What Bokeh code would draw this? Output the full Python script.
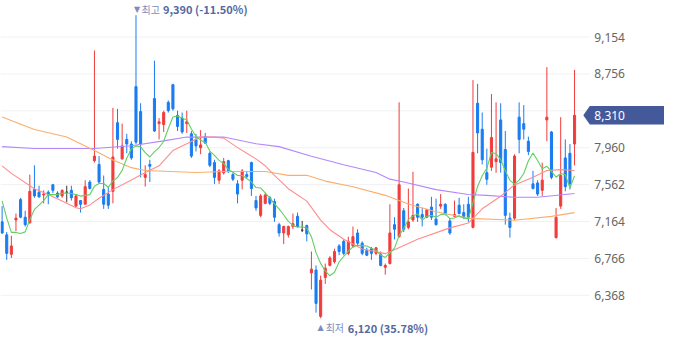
from bokeh.plotting import figure
from bokeh.models import Range1d, ColumnDataSource
from bokeh.core.properties import value
from bokeh.embed import file_html
from bokeh.resources import INLINE

# ---- data ----
opens = [7160, 7020, 6810, 7180, 7400, 7210, 7150, 7510, 7480, 7450,
         7480, 7560, 7470, 7440, 7480, 7500, 7330, 7390, 7350, 7590,
         7820, 7780, 7510, 7460, 7490, 8230, 7840, 8050, 8000, 8620,
         8350, 7640, 7780, 8490, 8220, 8210, 8450, 8640, 8310, 8280,
         8220, 8110, 8050, 7960, 8080, 7900, 7800, 7610, 7690, 7820,
         7670, 7570, 7610, 7670, 7800, 7390, 7230, 7360, 7420, 7380,
         7130, 7040, 7020, 7110, 7220, 7070, 7120, 6610, 6640, 6140,
         6560, 6690, 6730, 6900, 6950, 6820, 6900, 7040, 6930, 6850,
         6870, 6820, 6810, 6670, 6710, 7130, 7000, 7280, 7100, 7180,
         7350, 7240, 7210, 7320, 7190, 7330, 7350, 7170, 7220, 7340,
         7260, 7350, 7100, 8440, 8160, 7690, 7750, 7810, 8260, 7940,
         7200, 7200, 8290, 8220, 8030, 7570, 7580, 7500, 8260, 8130,
         6990, 7330, 7850, 7900, 8000]
highs = [7330, 7050, 7010, 7250, 7420, 7280, 7670, 7770, 7550, 7500,
         7500, 7570, 7490, 7510, 7550, 7550, 7460, 7390, 7610, 7610,
         9010, 7870, 7660, 7540, 8390, 8380, 8220, 8110, 8030, 9390,
         8440, 7770, 7830, 8900, 8280, 8360, 8470, 8650, 8360, 8340,
         8360, 8140, 8110, 8150, 8120, 7920, 7830, 7730, 7850, 7830,
         7690, 7610, 7730, 7710, 7810, 7440, 7460, 7470, 7440, 7410,
         7150, 7120, 7120, 7250, 7260, 7170, 7130, 6840, 6690, 6580,
         6710, 6790, 6870, 6920, 6970, 7000, 7110, 7080, 6950, 6880,
         6890, 6890, 6840, 6710, 7350, 7210, 8450, 7310, 7520, 7700,
         7360, 7310, 7300, 7430, 7410, 7460, 7360, 7200, 7390, 7420,
         7350, 7430, 8690, 8650, 8340, 7950, 8540, 8450, 8440, 8140,
         7260, 7890, 8450, 8420, 8080, 7710, 7610, 7800, 8830, 8140,
         7310, 8290, 8050, 8000, 8800]
lows = [7030, 6750, 6770, 7060, 7200, 7110, 7140, 7420, 7420, 7360,
        7350, 7470, 7420, 7420, 7370, 7390, 7320, 7260, 7350, 7510,
        7800, 7580, 7300, 7300, 7360, 7950, 7830, 7900, 7830, 8000,
        7640, 7540, 7590, 8130, 8050, 8130, 8340, 8360, 8140, 8110,
        8120, 7850, 7920, 7890, 8000, 7750, 7570, 7570, 7670, 7690,
        7600, 7360, 7510, 7630, 7440, 7280, 7210, 7350, 7340, 7160,
        7000, 6920, 6990, 7080, 7100, 7050, 6950, 6430, 6180, 6120,
        6490, 6680, 6710, 6800, 6800, 6800, 6880, 6890, 6800, 6790,
        6750, 6800, 6680, 6590, 6700, 6970, 6990, 7050, 7080, 7160,
        7160, 7110, 7200, 7180, 7120, 7300, 7230, 7020, 7210, 7240,
        7190, 7160, 7090, 7900, 7780, 7560, 7710, 7690, 7690, 7130,
        6990, 7180, 7900, 8050, 7880, 7510, 7440, 7440, 8030, 7620,
        6980, 7300, 7490, 7510, 7770]
closes = [7040, 6820, 6900, 7200, 7210, 7130, 7490, 7440, 7430, 7460,
          7450, 7500, 7430, 7500, 7480, 7420, 7440, 7350, 7540, 7520,
          7870, 7590, 7350, 7340, 7860, 8050, 7980, 8000, 7850, 8020,
          8000, 7670, 7760, 8140, 8240, 8340, 8360, 8380, 8190, 8130,
          8240, 7870, 7980, 7990, 8010, 7770, 7640, 7710, 7810, 7700,
          7620, 7460, 7710, 7650, 7520, 7310, 7440, 7450, 7360, 7210,
          7040, 7110, 7110, 7140, 7110, 7070, 7030, 6650, 6280, 6530,
          6660, 6770, 6840, 6840, 6820, 6950, 7000, 6930, 6820, 6800,
          6820, 6880, 6690, 6690, 7040, 7080, 7560, 7080, 7160, 7230,
          7210, 7210, 7290, 7210, 7130, 7350, 7250, 7040, 7240, 7250,
          7220, 7210, 7910, 8120, 7830, 7620, 8070, 7840, 7800, 7230,
          7100, 7870, 8050, 8160, 7920, 7520, 7460, 7610, 8290, 7640,
          7210, 7660, 7540, 7570, 8310]
prior_closes = [7750, 7670, 7200, 7270]   # four sessions before the window (for MA5)

ma20_idx = [0, 2, 7, 10, 13, 16, 17, 19, 21, 24, 28, 31, 34, 37, 40, 43, 46, 48, 51, 53,
            55, 57, 59, 62, 66, 69, 71, 74, 76, 78, 80, 83, 85, 90, 97, 101, 104, 108, 111,
            115, 118, 121, 124]
ma20_val = [7765, 7683, 7518, 7456, 7384, 7312, 7301, 7343, 7415, 7508, 7611, 7693, 7765,
            7930, 8003, 8075, 8075, 8064, 7961, 7900, 7840, 7765, 7662, 7518, 7384, 7178,
            7075, 6972, 6920, 6868, 6848, 6817, 6860, 6972, 7095, 7147, 7301, 7436, 7559,
            7642, 7714, 7724, 7714]
ma60_idx = [0, 7, 14, 20, 24, 28, 31, 42, 48, 57, 62, 66, 70, 76, 83, 88, 94, 101, 111, 119, 124]
ma60_val = [8291, 8157, 8075, 7930, 7827, 7745, 7714, 7693, 7704, 7704, 7662, 7662, 7600,
            7538, 7446, 7353, 7270, 7198, 7178, 7219, 7260]
ma120_idx = [0, 7, 20, 28, 35, 40, 48, 55, 60, 67, 74, 81, 84, 87, 94, 101, 105, 111, 116, 124]
ma120_val = [7972, 7951, 7951, 7982, 8034, 8075, 8075, 8003, 7972, 7868, 7776, 7693, 7621,
             7590, 7508, 7456, 7446, 7425, 7425, 7466]
y_ticks = [6368, 6766, 7164, 7562, 7960, 8358, 8756, 9154]
y_tick_labels = [f"{t:,}" for t in y_ticks]

# ---- colours ----
UP = "#f23c3c"
DOWN = "#1b7cf2"
FLAT = "#333333"

n = len(closes)
idx = list(range(n))
allc = prior_closes + closes
ma5 = [sum(allc[i:i + 5]) / 5 for i in range(n)]
cols = [UP if c > o else (DOWN if c < o else FLAT) for o, c in zip(opens, closes)]
tops = [max(o, c) for o, c in zip(opens, closes)]
bots = [min(o, c) for o, c in zip(opens, closes)]

src = ColumnDataSource(dict(x=idx, o=opens, h=highs, l=lows, c=closes,
                            top=tops, bot=bots, col=cols))

W, H = 664, 342
PLOT_W = 589                         # width of the price area (gridlines end here)
x0, x1 = -0.35, 127.24               # candle index range over the price area
ppu = PLOT_W / (x1 - x0)             # pixels per candle slot
xE = x0 + W / ppu                    # right edge of the whole canvas in index units
y0r, y1r = 5858, 9549
vpp = (y1r - y0r) / H                # price per pixel

p = figure(width=W, height=H, x_range=Range1d(x0, xE), y_range=Range1d(y0r, y1r),
           min_border_left=0, min_border_right=0, min_border_top=0, min_border_bottom=0,
           x_axis_location=None, y_axis_location=None,
           toolbar_location=None, output_backend="svg")
p.outline_line_color = None
p.background_fill_color = "white"
p.border_fill_color = "white"
p.xgrid.visible = False
p.ygrid.visible = False

# horizontal grid + price scale labels
p.segment(x0=[x0] * len(y_ticks), x1=[x1] * len(y_ticks), y0=y_ticks, y1=y_ticks,
          line_color="#eff1f5", line_width=1)
p.text(x=[x1] * len(y_ticks), y=y_ticks, text=y_tick_labels, x_offset=4.8,
       text_align="left", text_baseline="middle", text_font=value("Noto Sans"),
       text_font_size="12px", text_color="#666666")

# candles
p.segment(x0="x", y0="l", x1="x", y1="h", source=src, line_color="col", line_width=1)
p.vbar(x="x", width=0.45, top="top", bottom="bot", source=src,
       fill_color="col", line_color="col", line_width=1)

# moving averages
p.line(ma120_idx, ma120_val, line_color="#b587fb", line_width=1.1)
p.line(ma60_idx, ma60_val, line_color="#fbae6c", line_width=1.1)
p.line(ma20_idx, ma20_val, line_color="#ff8d8d", line_width=1.1)
p.line(idx, ma5, line_color="#62cf62", line_width=1.1)

# high / low annotations
vmax = max(highs); imax = highs.index(vmax)
vmin = min(lows); imin = lows.index(vmin)
last = closes[-1]
ANN_LIGHT = "#7e8cbb"
ANN_DARK = "#55699f"
KR = value("Noto Sans CJK KR")

p.text(x=[imax], y=[vmax], text=["▼"], text_align="center", text_baseline="middle",
       x_offset=1, y_offset=-6, text_font_size="8px", text_color=ANN_LIGHT,
       text_font=value("DejaVu Sans"))
p.text(x=[imax], y=[vmax], text=["최고"], text_align="left", text_baseline="middle",
       x_offset=5.5, y_offset=-6, text_font_size="10px", text_color=ANN_LIGHT, text_font=KR)
p.text(x=[imax], y=[vmax], text=[f"{vmax:,} ({(last / vmax - 1) * 100:.2f}%)"],
       text_align="left", text_baseline="middle", x_offset=27, y_offset=-6,
       text_font_size="11px", text_font_style="bold", text_color=ANN_DARK, text_font=KR)

p.text(x=[imin], y=[vmin], text=["▲"], text_align="center", text_baseline="middle",
       x_offset=0, y_offset=9.5, text_font_size="8px", text_color=ANN_LIGHT,
       text_font=value("DejaVu Sans"))
p.text(x=[imin], y=[vmin], text=["최저"], text_align="left", text_baseline="middle",
       x_offset=5, y_offset=9.5, text_font_size="10px", text_color=ANN_LIGHT, text_font=KR)
p.text(x=[imin], y=[vmin], text=[f"{vmin:,} ({(last / vmin - 1) * 100:.2f}%)"],
       text_align="left", text_baseline="middle", x_offset=27, y_offset=9.5,
       text_font_size="11px", text_font_style="bold", text_color=ANN_DARK, text_font=KR)

# current price tag (arrow + box) at the last close
half = 9.2 * vpp
TAG = "#44599a"
tip = x1 - 6.2 / ppu
bl = x1 + 0.3 / ppu
p.patch(x=[tip, bl, xE + 1, xE + 1, bl], y=[last, last + half, last + half, last - half, last - half],
        fill_color=TAG, line_color=None)
p.text(x=[x1], y=[last], text=[f"{last:,}"], x_offset=4.8, text_align="left",
       text_baseline="middle", text_font=value("Noto Sans"), text_font_size="12px",
       text_color="white")

open("out.html", "w").write(file_html(p, INLINE))
